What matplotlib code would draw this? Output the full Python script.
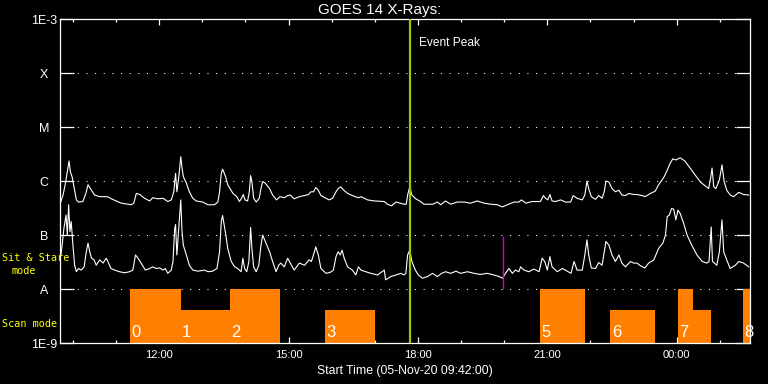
import numpy as np
import matplotlib
matplotlib.use('Agg')
import matplotlib.pyplot as plt
from matplotlib.ticker import FixedLocator, NullLocator

plt.rcParams['font.family'] = ['Liberation Sans', 'DejaVu Sans']

# time in hours (05-Nov-20), past midnight goes on as 24+
long_t = [9.72, 9.77, 9.82, 9.87, 9.91, 9.94, 9.98, 10.03, 10.08, 10.13,
          10.23, 10.30, 10.35, 10.39, 10.43, 10.50, 10.62, 10.80, 10.89, 11.12,
          11.35, 11.41, 11.47, 11.55, 11.66, 11.78, 11.85, 11.97, 12.09, 12.20,
          12.28, 12.34,
          12.36, 12.38, 12.41, 12.46, 12.50, 12.53, 12.56, 12.63, 12.70, 12.78,
          12.86, 13.01, 13.13, 13.28, 13.36, 13.40, 13.44, 13.47, 13.54, 13.59,
          13.71, 13.80, 13.86, 13.91, 13.95, 13.99, 14.05, 14.09, 14.12, 14.15,
          14.19, 14.25, 14.32, 14.36, 14.40, 14.46, 14.56, 14.63, 14.72, 14.80,
          14.90, 14.98,
          15.04, 15.13, 15.25, 15.37, 15.46, 15.52, 15.58, 15.63, 15.69, 15.75,
          15.87, 15.94, 16.02, 16.10, 16.15, 16.21, 16.28, 16.37, 16.48, 16.62,
          16.68, 16.83, 16.99, 17.22, 17.29, 17.39, 17.49, 17.68,
          17.73, 17.76, 17.81, 17.86, 17.95, 18.06, 18.14, 18.34, 18.45, 18.53,
          18.64, 18.76, 18.91, 19.07, 19.22, 19.38, 19.53, 19.69, 19.84, 19.96,
          20.07, 20.23, 20.34,
          20.40, 20.50, 20.65, 20.84, 20.91, 20.96, 21.01, 21.06, 21.11, 21.19,
          21.31, 21.42, 21.54, 21.60, 21.69, 21.81, 21.87, 21.92, 21.96, 22.02,
          22.12, 22.19, 22.27, 22.32, 22.36, 22.43, 22.50, 22.58, 22.66, 22.73,
          22.81, 22.89, 23.00,
          23.08, 23.20, 23.27, 23.39, 23.50, 23.58, 23.66, 23.71, 23.78, 23.85,
          23.91, 23.98, 24.08, 24.19, 24.31, 24.43, 24.55, 24.66, 24.74, 24.78,
          24.82, 24.86, 24.91, 24.99, 25.05, 25.10, 25.16, 25.24, 25.32, 25.44,
          25.55, 25.67]
# log10 flux, 1-8 A channel
long_log = [-6.38, -6.26, -6.07, -5.83, -5.63, -5.83, -5.92, -6.14, -6.35, -6.39,
            -6.38, -6.23, -6.07, -6.12, -6.17, -6.26, -6.29, -6.29, -6.33, -6.41,
            -6.44, -6.41, -6.23, -6.25, -6.32, -6.37, -6.31, -6.33, -6.32, -6.38,
            -6.35, -6.20,
            -6.01, -5.86, -6.20, -5.89, -5.55, -5.76, -5.92, -6.04, -6.20, -6.32,
            -6.37, -6.39, -6.44, -6.44, -6.39, -6.20, -5.86, -5.78, -5.92, -6.07,
            -6.23, -6.29, -6.38, -6.32, -6.25, -6.35, -6.37, -6.20, -5.90, -6.01,
            -6.32, -6.39, -6.32, -6.14, -6.01, -6.04, -6.14, -6.26, -6.35, -6.29,
            -6.31, -6.27,
            -6.26, -6.33, -6.29, -6.27, -6.25, -6.20, -6.20, -6.12, -6.17, -6.27,
            -6.32, -6.35, -6.32, -6.20, -6.14, -6.11, -6.17, -6.23, -6.27, -6.31,
            -6.29, -6.35, -6.37, -6.38, -6.43, -6.46, -6.39, -6.43,
            -6.43, -6.26, -6.11, -6.26, -6.33, -6.38, -6.43, -6.43, -6.39, -6.44,
            -6.37, -6.43, -6.39, -6.39, -6.41, -6.37, -6.41, -6.43, -6.44, -6.48,
            -6.44, -6.39, -6.39,
            -6.35, -6.41, -6.38, -6.38, -6.27, -6.32, -6.35, -6.25, -6.37, -6.38,
            -6.35, -6.39, -6.39, -6.27, -6.32, -6.35, -6.26, -6.00, -6.14, -6.29,
            -6.34, -6.27, -6.32, -6.20, -6.00, -6.02, -6.14, -6.20, -6.17, -6.26,
            -6.27, -6.23, -6.25,
            -6.25, -6.27, -6.29, -6.23, -6.19, -6.07, -5.98, -5.92, -5.80, -5.67,
            -5.59, -5.61, -5.57, -5.63, -5.76, -5.89, -6.02, -6.09, -6.14, -5.98,
            -5.76, -6.11, -6.14, -5.98, -5.70, -6.01, -6.17, -6.26, -6.29, -6.21,
            -6.25, -6.26]

short_t = [9.72, 9.75, 9.79, 9.84, 9.87, 9.90, 9.93, 9.96, 10.00, 10.04,
           10.08, 10.13, 10.19, 10.26, 10.31, 10.35, 10.39, 10.43, 10.49, 10.54,
           10.62, 10.70, 10.77, 10.81, 10.88, 10.97, 11.08, 11.20, 11.31, 11.39,
           11.45, 11.51, 11.58, 11.68, 11.78, 11.85, 11.93, 12.01, 12.09, 12.14,
           12.20, 12.28,
           12.32, 12.36, 12.38, 12.41, 12.46, 12.50, 12.53, 12.56, 12.63, 12.70,
           12.78, 12.90, 13.05, 13.13, 13.24, 13.34, 13.40, 13.44, 13.47, 13.54,
           13.59, 13.67, 13.75, 13.82, 13.90, 13.94, 13.98, 14.03, 14.08, 14.12,
           14.15, 14.19, 14.25, 14.31, 14.36, 14.40, 14.46, 14.56, 14.63, 14.71,
           14.77, 14.82, 14.90, 14.98,
           15.04, 15.13, 15.25, 15.37, 15.48, 15.53, 15.60, 15.63, 15.69, 15.75,
           15.87, 15.97, 16.04, 16.10, 16.15, 16.20, 16.24, 16.29, 16.37, 16.48,
           16.56, 16.62, 16.68, 16.79, 16.91, 17.06, 17.22, 17.25, 17.37, 17.49,
           17.60, 17.68,
           17.72, 17.76, 17.81, 17.86, 17.94, 18.01, 18.10, 18.22, 18.34, 18.45,
           18.55, 18.64, 18.76, 18.88, 18.99, 19.15, 19.30, 19.45, 19.61, 19.76,
           19.88, 19.96, 20.03, 20.11, 20.19, 20.26, 20.34,
           20.38, 20.46, 20.57, 20.69, 20.81, 20.88, 20.94, 21.00, 21.06, 21.11,
           21.23, 21.35, 21.46, 21.55, 21.62, 21.69, 21.81, 21.87, 21.92, 21.96,
           22.02, 22.12, 22.19, 22.27, 22.32, 22.36, 22.43, 22.50, 22.58, 22.66,
           22.73, 22.81, 22.93, 23.00,
           23.08, 23.16, 23.26, 23.35, 23.47, 23.58, 23.68, 23.74, 23.78, 23.83,
           23.88, 23.93, 23.98, 24.03, 24.08, 24.16, 24.24, 24.35, 24.47, 24.59,
           24.70, 24.75, 24.80, 24.83, 24.93, 24.99, 25.05, 25.09, 25.16, 25.24,
           25.36, 25.44, 25.55, 25.67]
# log10 flux, 0.5-4 A channel
short_log = [-7.37, -7.19, -6.88, -6.63, -7.00, -6.44, -6.94, -6.75, -7.19, -7.56,
             -7.68, -7.62, -7.65, -7.59, -7.31, -7.15, -7.31, -7.43, -7.46, -7.56,
             -7.46, -7.52, -7.43, -7.49, -7.62, -7.65, -7.68, -7.70, -7.68, -7.65,
             -7.37, -7.43, -7.52, -7.65, -7.62, -7.59, -7.62, -7.61, -7.65, -7.62,
             -7.71, -7.65,
             -7.49, -6.88, -6.81, -7.37, -6.81, -6.35, -6.94, -7.19, -7.37, -7.56,
             -7.65, -7.67, -7.65, -7.68, -7.67, -7.62, -7.31, -6.75, -6.64, -6.97,
             -7.25, -7.49, -7.59, -7.62, -7.68, -7.43, -7.62, -7.68, -7.49, -6.86,
             -7.25, -7.59, -7.68, -7.56, -7.19, -7.00, -7.12, -7.31, -7.49, -7.68,
             -7.56, -7.52, -7.59, -7.43,
             -7.52, -7.65, -7.52, -7.56, -7.46, -7.49, -7.31, -7.22, -7.37, -7.62,
             -7.71, -7.69, -7.65, -7.40, -7.31, -7.37, -7.28, -7.43, -7.59, -7.65,
             -7.74, -7.59, -7.65, -7.68, -7.71, -7.74, -7.65, -7.83, -7.77, -7.74,
             -7.71, -7.74,
             -7.71, -7.37, -7.28, -7.49, -7.65, -7.74, -7.80, -7.77, -7.71, -7.77,
             -7.71, -7.68, -7.71, -7.67, -7.71, -7.68, -7.71, -7.73, -7.71, -7.74,
             -7.77, -7.80, -7.71, -7.62, -7.71, -7.65, -7.68,
             -7.59, -7.65, -7.68, -7.63, -7.68, -7.43, -7.49, -7.65, -7.40, -7.59,
             -7.68, -7.62, -7.67, -7.71, -7.49, -7.65, -7.65, -7.37, -7.09, -7.37,
             -7.61, -7.62, -7.51, -7.56, -7.31, -7.12, -7.19, -7.37, -7.49, -7.37,
             -7.52, -7.59, -7.49, -7.52,
             -7.52, -7.57, -7.61, -7.52, -7.46, -7.25, -7.15, -7.00, -6.66, -6.63,
             -6.51, -6.52, -6.72, -6.54, -6.60, -6.78, -7.00, -7.19, -7.37, -7.49,
             -7.52, -7.49, -6.85, -7.49, -7.56, -7.31, -6.72, -7.31, -7.46, -7.62,
             -7.56, -7.49, -7.52, -7.59]

# observing mode blocks
seg_start = [11.32, 12.50, 13.64, 15.84, 20.84, 22.46, 24.03, 24.38, 25.53]
seg_end = [12.50, 13.64, 14.81, 17.01, 21.87, 23.49, 24.38, 24.79, 25.70]
seg_top = [1e-8, 4e-9, 1e-8, 4e-9, 1e-8, 4e-9, 1e-8, 4e-9, 1e-8]
seg_label = ['0', '1', '2', '3', '5', '6', '7', '', '8']

peak_time = 17.81
marker_time = 19.98
marker_range = [1e-8, 0.95e-7]

class_levels = [1e-9, 1e-8, 1e-7, 1e-6, 1e-5, 1e-4, 1e-3]
class_names = ['1E-9', 'A', 'B', 'C', 'M', 'X', '1E-3']
hour_ticks = [12, 15, 18, 21, 24]
hour_names = ['12:00', '15:00', '18:00', '21:00', '00:00']

fig = plt.figure(figsize=(7.68, 3.84), dpi=100, facecolor='black')
ax = fig.add_axes([60/768, 41/384, 690/768, 324/384])
ax.set_facecolor('black')
ax.set_yscale('log')
ax.set_xlim(9.7, 25.7)
ax.set_ylim(1e-9, 1e-3)

for s in ax.spines.values():
    s.set_color('white')
    s.set_linewidth(0.9)

for lev in class_levels[1:-1]:
    ax.axhline(lev, color='white', lw=0.75, ls=(0, (1, 7.3)), zorder=1)

ax.bar(seg_start, np.array(seg_top) - 1e-9, width=np.array(seg_end) - np.array(seg_start),
       bottom=1e-9, align='edge', color='#ff8000', zorder=2)
for x0, lab in zip(seg_start, seg_label):
    ax.annotate(lab, xy=(x0, 1e-9), xytext=(1, 2.5), textcoords='offset points',
                color='white', fontsize=12, ha='left', va='bottom', zorder=5)

ax.plot(long_t, 10**np.array(long_log), color='white', lw=0.8, zorder=3)
ax.plot(short_t, 10**np.array(short_log), color='white', lw=0.8, zorder=3)

ax.axvline(peak_time, color='#99cc00', lw=1.6, zorder=4)
ax.vlines(marker_time, marker_range[0], marker_range[1], color='#cc00cc', lw=1, zorder=4)
ax.annotate('Event Peak', xy=(peak_time, 1), xycoords=('data', 'axes fraction'),
            xytext=(7, -17), textcoords='offset points', color='white',
            fontsize=8.6, ha='left', va='center')

ax.yaxis.set_major_locator(FixedLocator(class_levels))
ax.yaxis.set_minor_locator(NullLocator())
ax.set_yticklabels(class_names)
ax.tick_params(axis='y', which='major', direction='in', length=10, width=0.9,
               color='white', labelcolor='white', left=True, right=True,
               labelsize=9, pad=11.5)
for lab in ax.get_yticklabels():
    lab.set_horizontalalignment('center')

ax.set_xticks(hour_ticks)
ax.set_xticklabels(hour_names)
ax.xaxis.set_minor_locator(FixedLocator(range(10, 26)))
ax.tick_params(axis='x', which='major', direction='in', length=4.3, width=0.9,
               color='white', labelcolor='white', top=True, bottom=True,
               labelsize=8, pad=5)
ax.tick_params(axis='x', which='minor', direction='in', length=2, width=0.9,
               color='white', top=True, bottom=True)

ax.set_xlabel('Start Time (05-Nov-20 09:42:00)', color='white', fontsize=8.8, labelpad=3.5)
fig.text(380/768, 1 - 10/384, 'GOES 14 X-Rays:', color='white', fontsize=11,
         ha='center', va='center')

mono = ['DejaVu Sans Mono']
fig.text(2/768, 1 - 258/384, 'Sit & Stare', color='yellow', fontsize=7.3,
         family=mono, ha='left', va='center', zorder=10)
fig.text(24/768, 1 - 271/384, 'mode', color='yellow', fontsize=7.3,
         family=mono, ha='center', va='center')
fig.text(2/768, 1 - 324/384, 'Scan mode', color='yellow', fontsize=7.3,
         family=mono, ha='left', va='center')

fig.savefig('out.png', dpi=100, facecolor='black')
